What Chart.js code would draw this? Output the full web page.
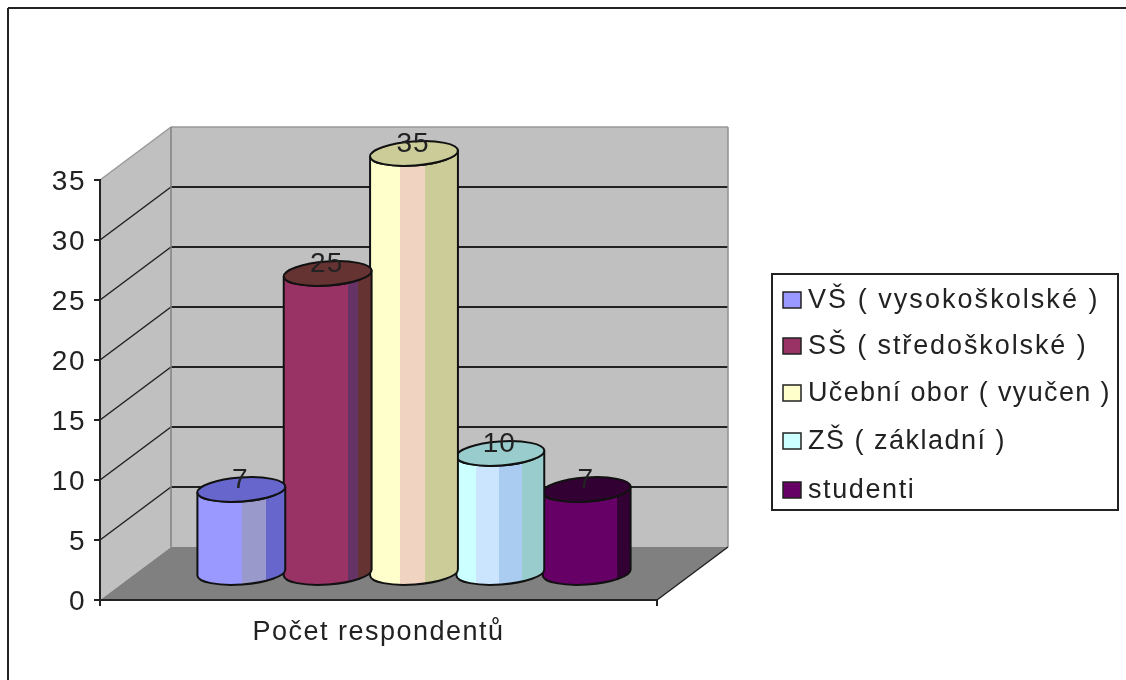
<!DOCTYPE html>
<html>
<head>
<meta charset="utf-8">
<title>Počet respondentů</title>
<script src="https://cdn.jsdelivr.net/npm/chart.js@4"></script>
<style>
	body { margin: 0; background: #fff; }
	canvas { display: block; }
</style>
</head>
<body>
<canvas id="chart_respondents" width="1126" height="680"></canvas>
<script>
var categories = ['Počet respondentů'];
var seriesNames = ['VŠ ( vysokoškolské )', 'SŠ ( středoškolské )', 'Učební obor ( vyučen )', 'ZŠ ( základní )', 'studenti'];
var seriesValues = [7, 25, 35, 10, 7];
var yTicks = [0, 5, 10, 15, 20, 25, 30, 35];

var seriesColors = ['#9999FF', '#993366', '#FFFFCC', '#CCFFFF', '#660066'];
var capColors = ['#6666CC', '#663333', '#CCCC99', '#99CCCC', '#330033'];
// shading bands across each cylinder: [colour, where the band ends, 0..1]
var bands = [
	[['#9999FF', 0.51], ['#9999CC', 0.78], ['#6666CC', 1]],
	[['#993366', 0.73], ['#663366', 0.84], ['#663333', 1]],
	[['#FFFFCC', 0.34], ['#F0D3C0', 0.63], ['#CCCC99', 1]],
	[['#CCFFFF', 0.22], ['#CCE5FF', 0.49], ['#A9CCF0', 0.75], ['#99CCCC', 1]],
	[['#660066', 0.85], ['#330033', 1]]
];

var INK = '#222';
var FONT = '"Liberation Sans", Arial, sans-serif';
var DEPTH_X = 71;
var DEPTH_Y = 53;
var CAP_RY = 12;
var CAP_TILT = -4 * Math.PI / 180;

// legend rows
var legendRowY = [300, 346, 393, 441, 490];
var legendSpacing = [2.05, 1.9, 1.35, 1.5, 1.6];

function line(ctx, x1, y1, x2, y2, color, width) {
	ctx.strokeStyle = color;
	ctx.lineWidth = width;
	ctx.beginPath();
	ctx.moveTo(x1, y1);
	ctx.lineTo(x2, y2);
	ctx.stroke();
}

function polygon(ctx, points, color) {
	ctx.fillStyle = color;
	ctx.beginPath();
	points.forEach(function (p, i) {
		if (i === 0) ctx.moveTo(p[0], p[1]);
		else ctx.lineTo(p[0], p[1]);
	});
	ctx.closePath();
	ctx.fill();
}

// frame, walls, floor and their gridlines
function drawBox(chart) {
	var ctx = chart.ctx;
	var a = chart.chartArea;
	var y = chart.scales.y;
	ctx.save();

	line(ctx, 8, 8, 8, 680, INK, 2);
	line(ctx, 8, 8, 1126, 8, INK, 2);

	var backL = a.left + DEPTH_X, backR = a.right + DEPTH_X;
	var backT = a.top - DEPTH_Y, backB = a.bottom - DEPTH_Y;
	polygon(ctx, [[a.left, a.top], [backL, backT], [backL, backB], [a.left, a.bottom]], '#C0C0C0');
	polygon(ctx, [[backL, backT], [backR, backT], [backR, backB], [backL, backB]], '#C0C0C0');
	polygon(ctx, [[a.left, a.bottom], [a.right, a.bottom], [backR, backB], [backL, backB]], '#808080');

	yTicks.forEach(function (v) {
		if (v === 0) return;
		var py = y.getPixelForValue(v);
		var top = v === yTicks[yTicks.length - 1];
		line(ctx, a.left, py, backL, py - DEPTH_Y, top ? '#999' : INK, 1.5);
		line(ctx, backL, py - DEPTH_Y, backR, py - DEPTH_Y, top ? '#999' : INK, top ? 1.5 : 2);
	});
	line(ctx, backL, backT, backL, backB, '#808080', 1.5);
	line(ctx, backR, backT, backR, backB, '#909090', 1.5);
	line(ctx, a.right, a.bottom, backR, backB, INK, 1.5);
	ctx.restore();
}

function drawCylinder(chart, index) {
	var ctx = chart.ctx;
	var bar = chart.getDatasetMeta(index).data[0];
	var cx = bar.x + DEPTH_X / 2;
	var rx = bar.width / 2;
	var top = bar.y - DEPTH_Y / 2;
	var base = bar.base - DEPTH_Y / 2;

	var shade = ctx.createLinearGradient(cx - rx, 0, cx + rx, 0);
	var from = 0;
	bands[index].forEach(function (b) {
		shade.addColorStop(from, b[0]);
		shade.addColorStop(b[1], b[0]);
		from = b[1];
	});

	ctx.save();
	ctx.lineWidth = 2;
	ctx.strokeStyle = '#111';
	ctx.lineJoin = 'round';

	ctx.beginPath();
	ctx.ellipse(cx, top, rx, CAP_RY, CAP_TILT, 0, Math.PI);
	ctx.ellipse(cx, base, rx, CAP_RY, CAP_TILT, Math.PI, 0, true);
	ctx.closePath();
	ctx.fillStyle = shade;
	ctx.fill();
	ctx.stroke();

	ctx.beginPath();
	ctx.ellipse(cx, top, rx, CAP_RY, CAP_TILT, 0, Math.PI * 2);
	ctx.fillStyle = capColors[index];
	ctx.fill();
	ctx.stroke();
	ctx.restore();
}

function drawValueLabels(chart) {
	var ctx = chart.ctx;
	ctx.save();
	ctx.letterSpacing = '1px';
	ctx.font = '28px ' + FONT;
	ctx.fillStyle = INK;
	ctx.textAlign = 'center';
	ctx.textBaseline = 'alphabetic';
	seriesValues.forEach(function (v, i) {
		var bar = chart.getDatasetMeta(i).data[0];
		ctx.fillText(String(v), bar.x + DEPTH_X / 2 - 1, bar.y - DEPTH_Y / 2 - 2);
	});
	ctx.restore();
}

function drawLegendBox(chart) {
	var ctx = chart.ctx;
	ctx.save();
	ctx.fillStyle = '#fff';
	ctx.fillRect(772, 274, 346, 236);
	ctx.strokeStyle = INK;
	ctx.lineWidth = 2;
	ctx.strokeRect(772, 274, 346, 236);
	ctx.font = '27px ' + FONT;
	ctx.textBaseline = 'middle';
	seriesNames.forEach(function (name, i) {
		ctx.fillStyle = seriesColors[i];
		ctx.fillRect(783, legendRowY[i] - 8, 18, 16);
		ctx.strokeStyle = INK;
		ctx.lineWidth = 1.5;
		ctx.strokeRect(783, legendRowY[i] - 8, 18, 16);
		ctx.fillStyle = INK;
		ctx.letterSpacing = legendSpacing[i] + 'px';
		ctx.fillText(name, 808, legendRowY[i] + 1);
	});
	ctx.restore();
}

var cylinders = {
	id: 'cylinders',
	beforeDraw: function (chart) {
		chart.ctx.letterSpacing = '1.5px';
		drawBox(chart);
	},
	beforeDatasetDraw: function (chart, args) {
		drawCylinder(chart, args.index);
		return false;
	},
	afterDatasetsDraw: function (chart) {
		drawValueLabels(chart);
	},
	afterDraw: function (chart) {
		drawLegendBox(chart);
	}
};

var chart_respondents = new Chart(
	document.getElementById('chart_respondents'),
	{
		type: 'bar',
		plugins: [cylinders],
		data: {
			labels: categories,
			datasets: seriesNames.map(function (name, i) {
				return {
					label: name,
					backgroundColor: seriesColors[i],
					data: [seriesValues[i]],
					categoryPercentage: 0.775,
					barPercentage: 1.02
				};
			})
		},
		options: {
			responsive: false,
			animation: false,
			layout: { padding: { left: 10, top: 180, right: 469, bottom: 10 } },
			plugins: {
				legend: { display: false },
				tooltip: { enabled: false }
			},
			scales: {
				x: {
					afterFit: function (scale) { scale.height = 70; },
					border: { color: INK, width: 2 },
					grid: { offset: true, drawOnChartArea: false, color: INK, lineWidth: 2, tickLength: 6 },
					ticks: { color: INK, font: { family: FONT, size: 27 }, padding: 10, maxRotation: 0 }
				},
				y: {
					min: 0,
					max: 35,
					afterFit: function (scale) { scale.width = 90; },
					afterBuildTicks: function (scale) {
						scale.ticks = yTicks.map(function (v) { return { value: v }; });
					},
					border: { color: INK, width: 2 },
					grid: { drawOnChartArea: false, color: INK, lineWidth: 2, tickLength: 6 },
					ticks: { color: INK, font: { family: FONT, size: 28 }, padding: 8, labelOffset: 2 }
				}
			}
		}
	}
);
</script>
</body>
</html>
